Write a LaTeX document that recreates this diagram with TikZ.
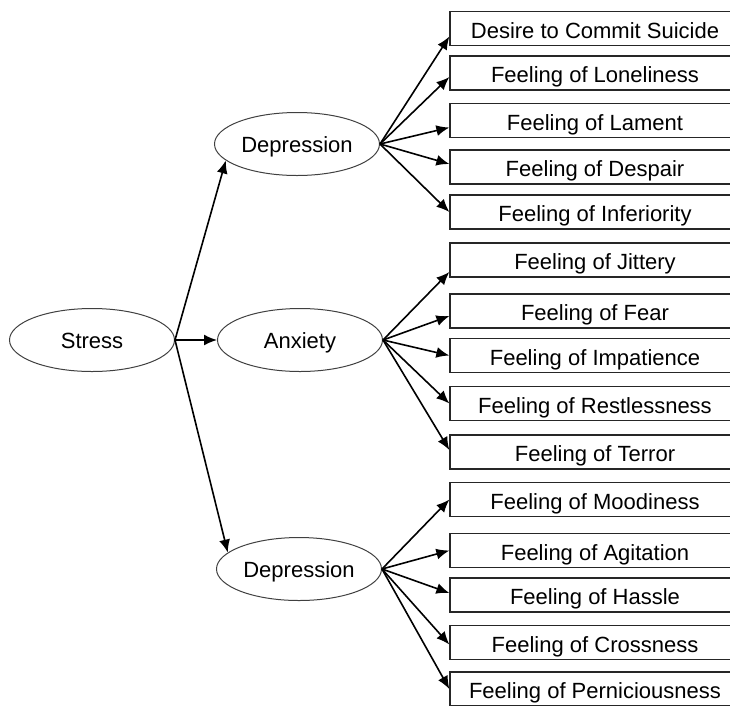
\documentclass[tikz,border=0pt]{standalone}
\usepackage{fontspec}
\setmainfont{Liberation Sans}
\usetikzlibrary{arrows.meta,shapes.geometric}

\tikzset{
	feeling/.style={draw=black!85, line width=1.3pt, rectangle, minimum width=290pt, minimum height=34pt, inner sep=0pt, text height=19pt, text depth=0pt, font=\fontsize{22}{24}\selectfont},
	emotion/.style={draw=black!75, line width=1pt, ellipse, minimum width=165pt, minimum height=63pt, inner sep=0pt, text height=17pt, text depth=0pt, font=\fontsize{22}{24}\selectfont},
}

\begin{document}
\begin{tikzpicture}[x=1pt, y=-1pt, >={Latex[length=13pt,width=11pt]}, line width=1.6pt]
	\path[use as bounding box, clip] (0,0) rectangle (730,705);

	\node[emotion] (S) at (92,340) {Stress};
	\node[emotion] (D1) at (297,144) {Depression};
	\node[emotion] (A) at (300,340) {Anxiety};
	\node[emotion] (D2) at (299,569) {Depression};

	\node[feeling] (B1) at (595,28.5) {Desire to Commit Suicide};
	\node[feeling] (B2) at (595,73) {Feeling of Loneliness};
	\node[feeling] (B3) at (595,120.5) {Feeling of Lament};
	\node[feeling] (B4) at (595,167) {Feeling of Despair};
	\node[feeling] (B5) at (595,212) {Feeling of Inferiority};

	\node[feeling] (B6) at (595,260) {Feeling of Jittery};
	\node[feeling] (B7) at (595,311) {Feeling of Fear};
	\node[feeling] (B8) at (595,355.5) {Feeling of Impatience};
	\node[feeling] (B9) at (595,403.5) {Feeling of Restlessness};
	\node[feeling] (B10) at (595,452) {Feeling of Terror};

	\node[feeling] (B11) at (595,499.5) {Feeling of Moodiness};
	\node[feeling] (B12) at (595,550.5) {Feeling of Agitation};
	\node[feeling] (B13) at (595,595) {Feeling of Hassle};
	\node[feeling] (B14) at (595,642.5) {Feeling of Crossness};
	\node[feeling] (B15) at (595,689) {Feeling of Perniciousness};

	\draw[->] (S.east) -- (D1.193);
	\draw[->] (S.east) -- (A.west);
	\draw[->] (S.east) -- (D2.167);

	\draw[->] (D1.east) -- ([yshift=-8pt]B1.west);
	\draw[->] (D1.east) -- ([yshift=-4pt]B2.west);
	\draw[->] (D1.east) -- ([yshift=-7pt]B3.west);
	\draw[->] (D1.east) -- ([yshift=3pt]B4.west);
	\draw[->] (D1.east) -- (B5.west);

	\draw[->] (A.east) -- ([yshift=-12pt]B6.west);
	\draw[->] (A.east) -- ([yshift=-5pt]B7.west);
	\draw[->] (A.east) -- (B8.west);
	\draw[->] (A.east) -- (B9.west);
	\draw[->] (A.east) -- ([yshift=2pt]B10.west);

	\draw[->] (D2.east) -- (B11.west);
	\draw[->] (D2.east) -- (B12.west);
	\draw[->] (D2.east) -- ([yshift=2pt]B13.west);
	\draw[->] (D2.east) -- ([yshift=-2pt]B14.west);
	\draw[->] (D2.east) -- (B15.west);
\end{tikzpicture}
\end{document}
